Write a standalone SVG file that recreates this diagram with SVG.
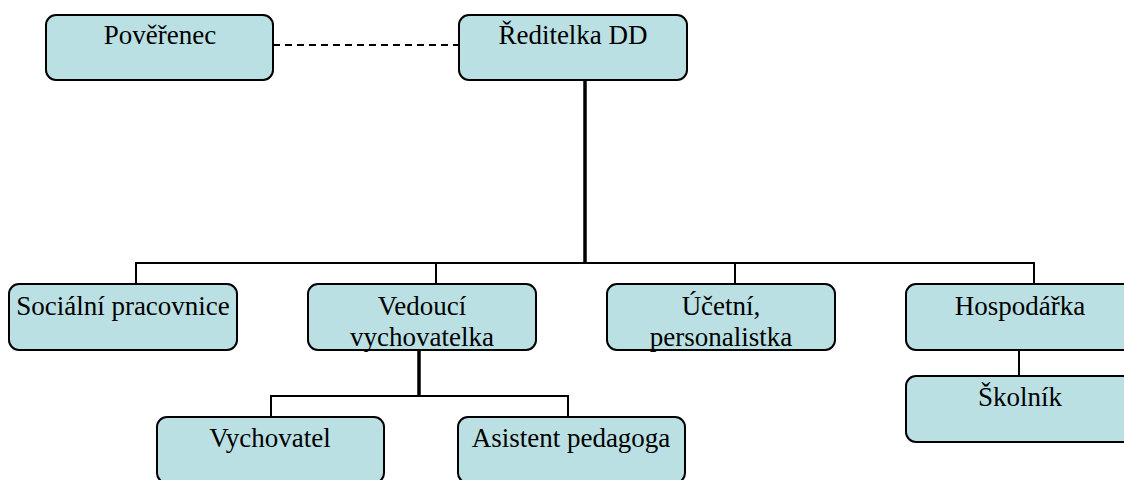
<svg xmlns="http://www.w3.org/2000/svg" width="1124" height="480" viewBox="0 0 1124 480">
<style>
.box{fill:#BBE0E3;stroke:#000;stroke-width:2}
.t{font-family:"Liberation Serif","Tinos","Times New Roman","DejaVu Serif",serif;font-size:27px;fill:#000;text-anchor:middle}
.c{stroke:#000;stroke-width:2;fill:none}
.thick{stroke:#000;stroke-width:3.5;fill:none}
.dash{stroke:#000;stroke-width:2;fill:none;stroke-dasharray:7 5}
</style>
<rect width="1124" height="480" fill="#fff"/>
<g id="connectors">
<line class="dash" x1="273" y1="45" x2="459" y2="45"/>
<line class="thick" x1="585" y1="80" x2="585" y2="264"/>
<polyline class="c" points="136,284 136,263 1034,263 1034,284"/>
<line class="c" x1="436" y1="263" x2="436" y2="284"/>
<line class="c" x1="735" y1="263" x2="735" y2="284"/>
<line class="c" x1="1019" y1="350" x2="1019" y2="376"/>
<line class="thick" x1="419" y1="350" x2="419" y2="397"/>
<polyline class="c" points="271,417 271,396 568,396 568,417"/>
</g>
<g id="poverenec"><rect class="box" x="46" y="15" width="227" height="65" rx="10"/><text class="t" x="160" y="44">Pověřenec</text></g>
<g id="reditelka"><rect class="box" x="459" y="15" width="228" height="65" rx="10"/><text class="t" x="573" y="44">Ředitelka DD</text></g>
<g id="socialni"><rect class="box" x="9" y="284" width="228" height="66" rx="10"/><text class="t" x="123" y="315">Sociální pracovnice</text></g>
<g id="vedouci"><rect class="box" x="308" y="284" width="228" height="66" rx="10"/><text class="t" x="422" y="315">Vedoucí</text><text class="t" x="422" y="346">vychovatelka</text></g>
<g id="ucetni"><rect class="box" x="607" y="284" width="228" height="66" rx="10"/><text class="t" x="721" y="315">Účetní,</text><text class="t" x="721" y="346">personalistka</text></g>
<g id="hospodarka"><rect class="box" x="906" y="284" width="228" height="66" rx="10"/><text class="t" x="1020" y="315">Hospodářka</text></g>
<g id="skolnik"><rect class="box" x="906" y="376" width="228" height="66" rx="10"/><text class="t" x="1020" y="406">Školník</text></g>
<g id="vychovatel"><rect class="box" x="157" y="417" width="227" height="66" rx="10"/><text class="t" x="270" y="447">Vychovatel</text></g>
<g id="asistent"><rect class="box" x="458" y="417" width="227" height="66" rx="10"/><text class="t" x="571" y="447">Asistent pedagoga</text></g>
</svg>
